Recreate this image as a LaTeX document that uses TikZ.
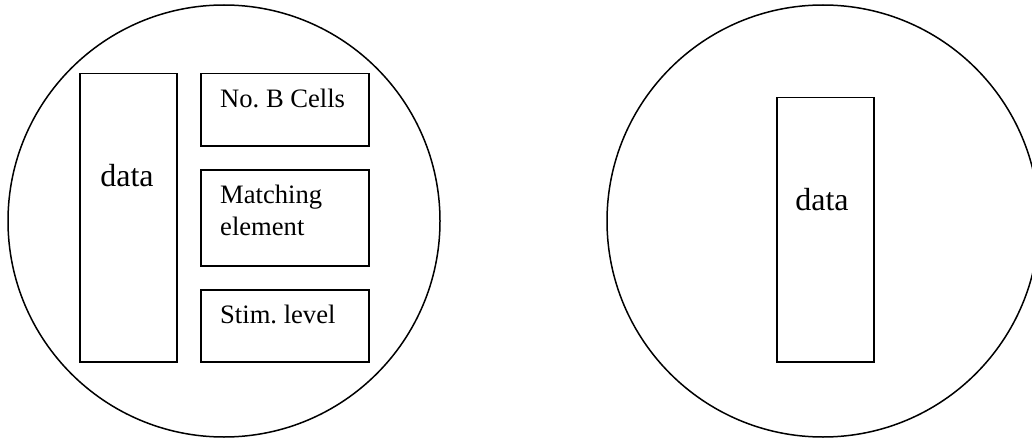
\documentclass[tikz,border=0pt]{standalone}
\usepackage{fontspec}
\setmainfont{Liberation Serif}
\begin{document}
\frenchspacing
\begin{tikzpicture}[x=1pt,y=-1pt,
  ring/.style={draw, circle, line width=1.5pt, inner sep=0pt, minimum size=432pt},
  box/.style={draw, line width=1.5pt, inner sep=0pt, anchor=north west},
  lbl/.style={anchor=base west, inner sep=0pt, align=left, font=\fontsize{26.6}{32}\selectfont},
  big/.style={anchor=base, inner sep=0pt, font=\fontsize{32}{38}\selectfont}]
\useasboundingbox (0,0) rectangle (1032,441);
\clip (0,0) rectangle (1032,441);
% left cell
\node[ring] (c1) at (224,221) {};
\node[box, minimum width=97pt, minimum height=288pt] (d1) at (79,73) {};
\node[box, minimum width=168pt, minimum height=72pt] (b1) at (200,73) {};
\node[box, minimum width=168pt, minimum height=96pt] (b2) at (200,169) {};
\node[box, minimum width=168pt, minimum height=72pt] (b3) at (200,289) {};
\node[big] (td1) at (127,186) {data};
\node[lbl] (tb1) at (220,108) {No. B Cells};
\node[lbl] (tb2) at (220,235) {Matching\\element};
\node[lbl] (tb3) at (220,323) {Stim. level};
% right cell
\node[ring] (c2) at (823,221) {};
\node[box, minimum width=97pt, minimum height=264pt] (d2) at (776,97) {};
\node[big] (td2) at (822,210) {data};
\end{tikzpicture}
\end{document}
